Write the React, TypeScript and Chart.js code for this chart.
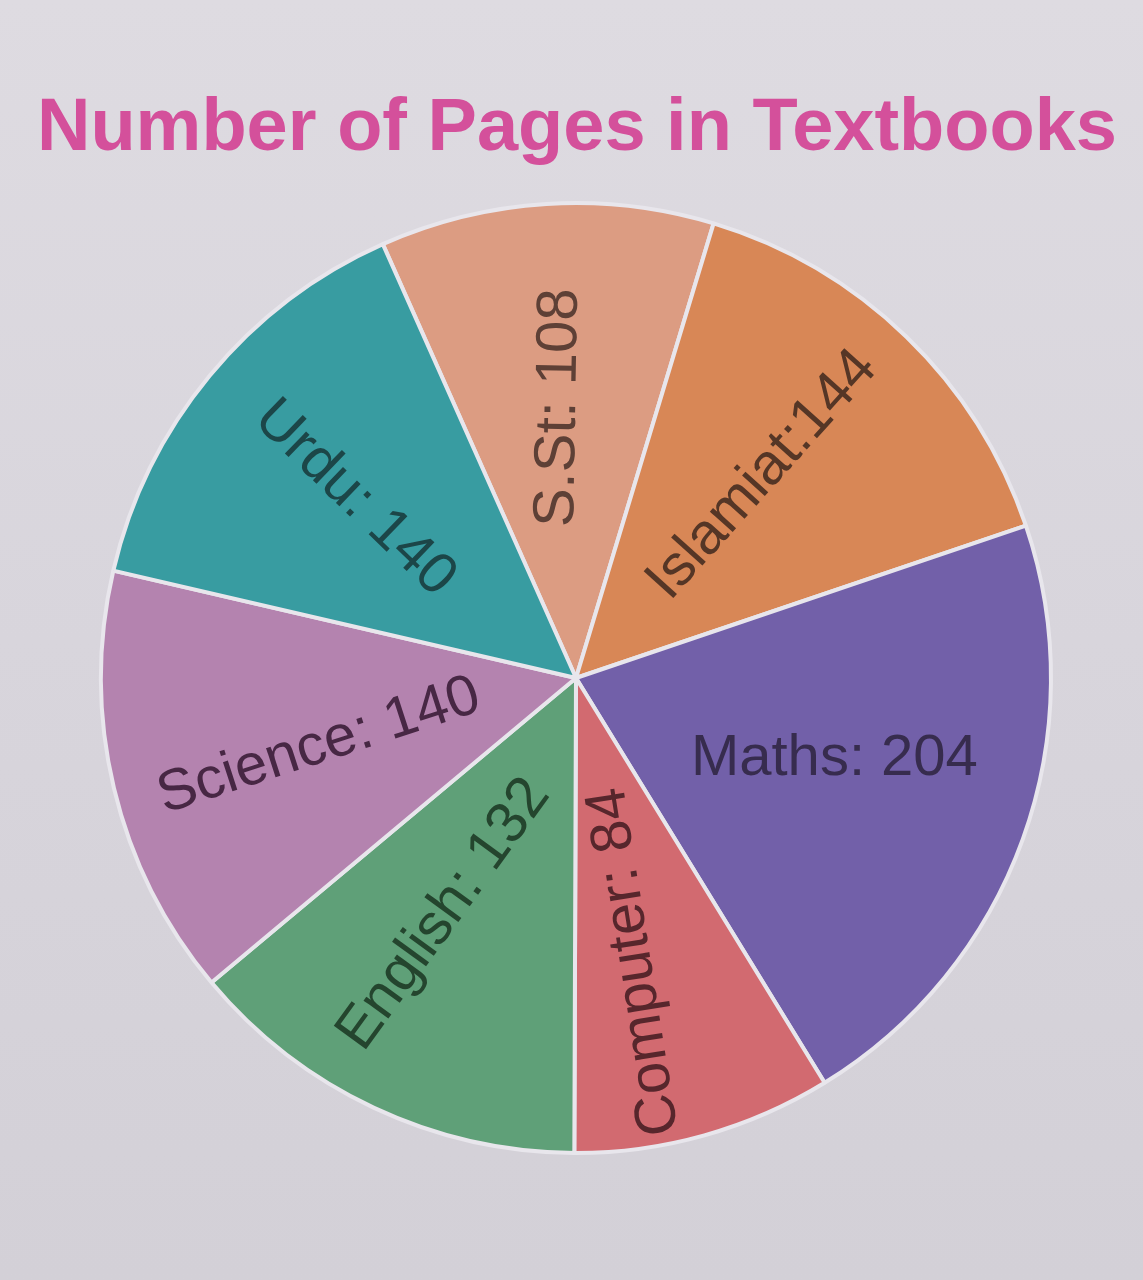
import React, { useEffect, useRef } from "react";
import { Chart, registerables } from "chart.js";

Chart.register(...registerables);

const subjects = ["S.St", "Islamiat", "Maths", "Computer", "English", "Science", "Urdu"];
const pages = [108, 144, 204, 84, 132, 140, 140];
const sliceLabels = ["S.St: 108", "Islamiat:144", "Maths: 204", "Computer: 84", "English: 132", "Science: 140", "Urdu: 140"];
const sliceColors = ["#dc9c82", "#d88756", "#7260a9", "#d26a70", "#5fa078", "#b483af", "#389ca1"];
const labelColors = ["#5e4036", "#553626", "#372c4e", "#57262c", "#24452e", "#472744", "#1c4648"];
const labelRotations = [-89, -48, 0, -99, -54, -18, 44];
const labelAngleOffsets = [0, -1.5, -2.5, 4, 4, -1.5, -0.5];
const labelRadii = [0.57, 0.58, 0.57, 0.61, 0.57, 0.56, 0.6];
const chartTitle = "Number of Pages in Textbooks";

const titlePlugin = {
  id: "pageTitle",
  afterDraw(chart: any) {
    const ctx = chart.ctx;
    ctx.save();
    ctx.font = "bold 74px 'Liberation Sans', Arial, sans-serif";
    ctx.fillStyle = "#d4509b";
    ctx.textAlign = "center";
    ctx.textBaseline = "alphabetic";
    ctx.fillText(chartTitle, 577, 150);
    ctx.restore();
  },
};

const sliceLabelPlugin = {
  id: "sliceLabels",
  afterDatasetsDraw(chart: any) {
    const ctx = chart.ctx;
    const meta = chart.getDatasetMeta(0);
    ctx.save();
    ctx.font = "58px 'Liberation Sans', Arial, sans-serif";
    ctx.textAlign = "center";
    ctx.textBaseline = "middle";
    meta.data.forEach((arc: any, i: number) => {
      const p = arc.getProps(["x", "y", "startAngle", "endAngle", "outerRadius"], true);
      const mid = (p.startAngle + p.endAngle) / 2 + (labelAngleOffsets[i] * Math.PI) / 180;
      const r = p.outerRadius * labelRadii[i];
      const lx = p.x + Math.cos(mid) * r;
      const ly = p.y + Math.sin(mid) * r;
      ctx.save();
      ctx.translate(lx, ly);
      ctx.rotate((labelRotations[i] * Math.PI) / 180);
      ctx.fillStyle = labelColors[i];
      ctx.fillText(sliceLabels[i], 0, 0);
      ctx.restore();
    });
    ctx.restore();
  },
};

export default function App() {
  const canvasRef = useRef<HTMLCanvasElement | null>(null);

  useEffect(() => {
    if (!canvasRef.current) return;
    const chart = new Chart(canvasRef.current, {
      type: "pie",
      data: {
        labels: subjects,
        datasets: [
          {
            data: pages,
            backgroundColor: sliceColors,
            borderColor: "#e8e6ec",
            borderWidth: 4,
          },
        ],
      },
      options: {
        responsive: false,
        animation: false,
        rotation: -24,
        layout: { padding: { left: 99, right: 90, top: 201, bottom: 125 } },
        plugins: {
          legend: { display: false },
          tooltip: { enabled: false },
          title: { display: false },
        },
      },
      plugins: [titlePlugin, sliceLabelPlugin],
    });
    return () => chart.destroy();
  }, []);

  return (
    <div
      style={{
        position: "absolute",
        left: 0,
        top: 0,
        width: 1143,
        height: 1280,
        background: "linear-gradient(180deg, #dedbe1 0%, #d8d5dc 50%, #d3d0d7 100%)",
      }}
    >
      <canvas ref={canvasRef} width={1143} height={1280} style={{ display: "block" }} />
    </div>
  );
}
